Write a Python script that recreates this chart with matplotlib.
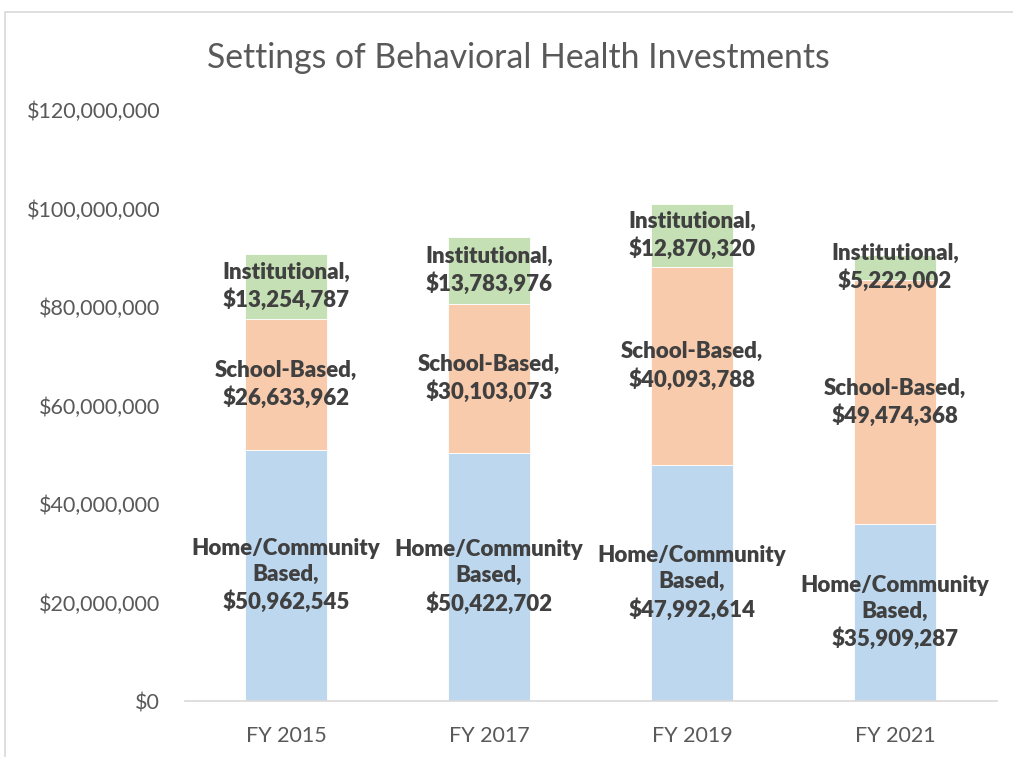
import matplotlib
matplotlib.use("Agg")
import matplotlib.pyplot as plt
from matplotlib.ticker import FuncFormatter
from matplotlib.patches import Rectangle

categories = ["FY 2015", "FY 2017", "FY 2019", "FY 2021"]
home = [50962545, 50422702, 47992614, 35909287]
school = [26633962, 30103073, 40093788, 49474368]
inst = [13254787, 13783976, 12870320, 5222002]
series_names = ["Home/Community\nBased", "School-Based", "Institutional"]
colors = ["#BDD7EE", "#F8CBAD", "#C5E0B4"]
yticks = [0, 20000000, 40000000, 60000000, 80000000, 100000000, 120000000]

plt.rcParams['font.family'] = ['Lato', 'DejaVu Sans']

fig = plt.figure(figsize=(10.13, 7.57), dpi=100)
fig.patches.append(Rectangle((5/1013, -0.01), 1.02, 1 - 12/757 + 0.01, transform=fig.transFigure,
                             fill=False, edgecolor="#D9D9D9", linewidth=1.2))
ax = fig.add_axes([184.5/1013, 56/757, 812/1013, 591/757])

x = list(range(len(categories)))
bottoms = [0]*len(categories)
for vals, name, col in zip([home, school, inst], series_names, colors):
    ax.bar(x, vals, width=0.4, bottom=bottoms, color=col, edgecolor="white", linewidth=0.6, zorder=2)
    for i, v in enumerate(vals):
        ax.text(x[i], bottoms[i] + v/2, f"{name},\n${v:,.0f}", ha="center", va="center",
                fontsize=16, fontweight="heavy", color="#404040", linespacing=1.3, zorder=3)
    bottoms = [b + v for b, v in zip(bottoms, vals)]

ax.set_xlim(-0.5, len(categories) - 0.5)
ax.set_ylim(0, 120000000)
ax.set_yticks(yticks)
ax.yaxis.set_major_formatter(FuncFormatter(lambda v, p: f"${v:,.0f}"))
ax.set_xticks(x)
ax.set_xticklabels(categories)
for s in ["top", "right", "left"]:
    ax.spines[s].set_visible(False)
ax.spines["bottom"].set_color("#D9D9D9")
ax.spines["bottom"].set_linewidth(1.2)
ax.tick_params(axis="both", length=0, labelsize=15.5, labelcolor="#595959")
ax.tick_params(axis="y", pad=17.5)
ax.tick_params(axis="x", pad=18)

fig.text(518/1013, 1 - 58/757, "Settings of Behavioral Health Investments", ha="center", va="center",
         fontsize=24.3, color="#595959", fontweight="normal")

fig.savefig("out.png", dpi=100)
